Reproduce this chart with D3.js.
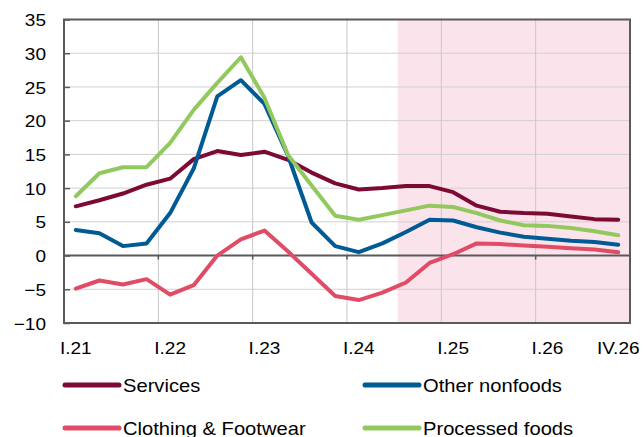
<!DOCTYPE html>
<html>
<head>
<meta charset="utf-8">
<script src="https://cdn.jsdelivr.net/npm/d3@7"></script>
<style>
  body { margin: 0; background: #fff; }
  svg { display: block; }
  text { font-family: "Liberation Sans", Arial, sans-serif; fill: #000; }
</style>
</head>
<body>
<svg id="chart" width="643" height="437"></svg>
<script>
// Quarterly categories, I.21 .. IV.26
const categories = [
  "I.21","II.21","III.21","IV.21",
  "I.22","II.22","III.22","IV.22",
  "I.23","II.23","III.23","IV.23",
  "I.24","II.24","III.24","IV.24",
  "I.25","II.25","III.25","IV.25",
  "I.26","II.26","III.26","IV.26"
];
const xTickLabels = ["I.21","I.22","I.23","I.24","I.25","I.26","IV.26"];
const yTicks = [-10, -5, 0, 5, 10, 15, 20, 25, 30, 35];

// Year-on-year rates, %
const services       = [7.3, 8.2, 9.2, 10.5, 11.4, 14.3, 15.5, 14.9, 15.4, 14.2, 12.3, 10.7, 9.8, 10.0, 10.3, 10.3, 9.4, 7.4, 6.5, 6.3, 6.2, 5.8, 5.4, 5.3];
const otherNonfoods  = [3.8, 3.3, 1.4, 1.8, 6.3, 12.9, 23.6, 26.0, 22.5, 14.8, 4.9, 1.4, 0.5, 1.8, 3.5, 5.3, 5.2, 4.2, 3.4, 2.8, 2.5, 2.2, 2.0, 1.6];
const clothing       = [-4.9, -3.7, -4.3, -3.5, -5.8, -4.4, 0.0, 2.4, 3.7, 0.6, -2.7, -6.0, -6.6, -5.5, -4.0, -1.1, 0.2, 1.8, 1.7, 1.5, 1.3, 1.1, 0.9, 0.5];
const processedFoods = [8.8, 12.2, 13.1, 13.1, 16.7, 21.6, 25.6, 29.4, 23.4, 14.9, 10.4, 5.9, 5.3, 6.0, 6.7, 7.4, 7.2, 6.3, 5.2, 4.5, 4.4, 4.1, 3.6, 3.0];

const seriesNames = ["Services", "Other nonfoods", "Clothing & Footwear", "Processed foods"];
const forecastFrom = "III.24";

const series = [
  { name: seriesNames[0], values: services,       color: "#7c0a35" },
  { name: seriesNames[1], values: otherNonfoods,  color: "#005a94" },
  { name: seriesNames[2], values: clothing,       color: "#e04c66" },
  { name: seriesNames[3], values: processedFoods, color: "#92c95e" }
];

const plotL = 64, plotR = 630, plotT = 19.5, plotB = 323;
const sx = 1.12; // horizontal text stretch

const svg = d3.select("#chart");
const x = d3.scaleBand().domain(categories).range([plotL, plotR]);
const cx = c => x(c) + x.bandwidth() / 2;
const y = d3.scaleLinear().domain([-10, 35]).range([plotB, plotT]);

// Forecast period shading
const shadeX = x(forecastFrom) + x.bandwidth() * 0.15;
svg.append("rect")
  .attr("x", shadeX).attr("y", plotT)
  .attr("width", plotR - shadeX).attr("height", plotB - plotT)
  .attr("fill", "#fbe3eb");

// Gridlines
svg.append("g").selectAll("line").data(yTicks).join("line")
  .attr("x1", plotL).attr("x2", plotR)
  .attr("y1", d => y(d)).attr("y2", d => y(d))
  .attr("stroke", "#d0d0d0").attr("stroke-width", 1);

const yearStarts = categories.filter(c => c.startsWith("I.")).slice(1);
svg.append("g").selectAll("line").data(yearStarts).join("line")
  .attr("x1", d => x(d)).attr("x2", d => x(d))
  .attr("y1", plotT).attr("y2", plotB)
  .attr("stroke", "#c8c8c8").attr("stroke-width", 1);

// Zero line with small ticks at year boundaries
svg.append("line")
  .attr("x1", plotL).attr("x2", plotR)
  .attr("y1", y(0)).attr("y2", y(0))
  .attr("stroke", "#5a5a5a").attr("stroke-width", 2);
svg.append("g").selectAll("line").data(yearStarts).join("line")
  .attr("x1", d => x(d)).attr("x2", d => x(d))
  .attr("y1", y(0)).attr("y2", y(0) + 4)
  .attr("stroke", "#5a5a5a").attr("stroke-width", 1.5);

// Y axis
const yAxis = svg.append("g")
  .attr("transform", `translate(${plotL},0)`)
  .call(d3.axisLeft(y).tickValues(yTicks).tickSize(-6).tickPadding(0));
yAxis.select(".domain").remove();
yAxis.selectAll(".tick line").attr("stroke", "#5a5a5a").attr("stroke-width", 1.5);
yAxis.selectAll(".tick text")
  .attr("x", -18 / sx).attr("dy", "0.36em")
  .attr("transform", `scale(${sx},1)`)
  .style("font-size", "17px").style("font-family", "Liberation Sans, Arial, sans-serif")
  .attr("fill", "#000");

// X axis labels
const xAxis = svg.append("g")
  .attr("transform", `translate(0,${plotB})`)
  .call(d3.axisBottom(x).tickValues(xTickLabels).tickSize(0));
xAxis.select(".domain").remove();
xAxis.selectAll(".tick text")
  .attr("y", 31).attr("dy", 0)
  .attr("transform", `scale(${sx},1)`)
  .style("font-size", "17px").style("font-family", "Liberation Sans, Arial, sans-serif")
  .attr("fill", "#000");

// Series lines
const line = d3.line()
  .x((d, i) => cx(categories[i]))
  .y(d => y(d));
svg.append("g").selectAll("path").data(series).join("path")
  .attr("d", d => line(d.values))
  .attr("fill", "none")
  .attr("stroke", d => d.color)
  .attr("stroke-width", 4)
  .attr("stroke-linejoin", "round")
  .attr("stroke-linecap", "round");

// Plot frame
svg.append("rect")
  .attr("x", plotL).attr("y", plotT)
  .attr("width", plotR - plotL).attr("height", plotB - plotT)
  .attr("fill", "none").attr("stroke", "#5a5a5a").attr("stroke-width", 2);

// Legend (two columns, two rows)
const legendPos = [
  { lx: 65,  ly: 385 }, { lx: 365, ly: 385 },
  { lx: 65,  ly: 428 }, { lx: 365, ly: 428 }
];
const legend = svg.append("g").selectAll("g").data(series).join("g")
  .attr("transform", (d, i) => `translate(${legendPos[i].lx},${legendPos[i].ly})`);
legend.append("line")
  .attr("x1", 0).attr("x2", 54).attr("y1", 0).attr("y2", 0)
  .attr("stroke", d => d.color).attr("stroke-width", 5).attr("stroke-linecap", "round");
legend.append("text")
  .attr("x", 58 / sx).attr("y", 6.5)
  .attr("transform", `scale(${sx},1)`)
  .style("font-size", "18px")
  .text(d => d.name);
</script>
</body>
</html>
